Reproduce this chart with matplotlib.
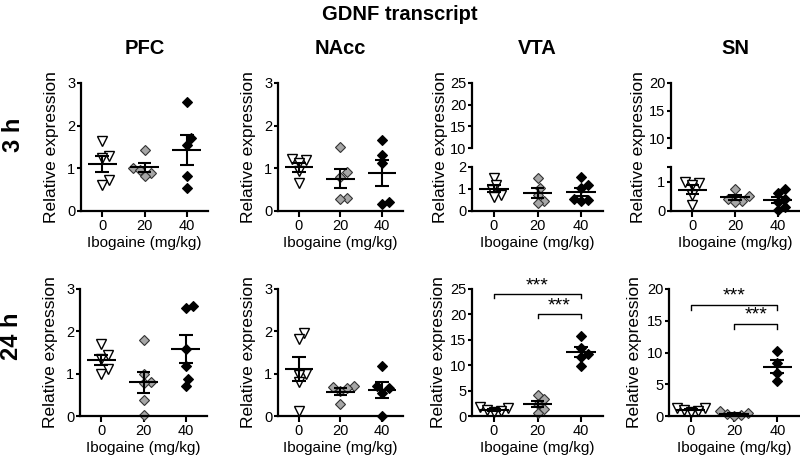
import numpy as np
import matplotlib.pyplot as plt

plt.rcParams['font.family'] = ['Liberation Sans', 'DejaVu Sans']

regions = ["PFC", "NAcc", "VTA", "SN"]
times = ["3 h", "24 h"]
doses = ["0", "20", "40"]

# relative expression per dose group: 0, 20, 40 mg/kg
pfc_3h = [[1.65, 1.3, 1.25, 0.72, 0.6],
          [1.43, 1.0, 0.97, 0.88, 0.82],
          [2.55, 1.7, 1.55, 0.82, 0.55]]
nacc_3h = [[1.22, 1.2, 1.12, 0.93, 0.66],
           [1.5, 0.92, 0.8, 0.3, 0.27],
           [1.67, 1.31, 1.13, 0.2, 0.17]]
vta_3h = [[1.5, 1.2, 0.95, 0.75, 0.65],
          [1.5, 1.05, 0.75, 0.45, 0.35],
          [1.55, 1.2, 1.05, 0.55, 0.5, 0.45]]
sn_3h = [[1.0, 0.95, 0.9, 0.55, 0.2],
         [0.75, 0.5, 0.42, 0.35, 0.3],
         [0.75, 0.6, 0.4, 0.3, 0.15, 0.05]]

pfc_24h = [[1.7, 1.45, 1.35, 1.12, 1.0],
           [1.8, 1.0, 0.8, 0.78, 0.37, 0.02],
           [2.6, 2.55, 1.58, 1.18, 0.88, 0.72]]
nacc_24h = [[1.95, 1.82, 1.0, 0.98, 0.8, 0.12],
            [0.7, 0.68, 0.65, 0.58, 0.28],
            [1.17, 0.7, 0.65, 0.55, 0.0]]
vta_24h = [[1.8, 1.6, 1.2, 0.9, 0.7],
           [4.2, 3.3, 2.3, 1.3, 0.6],
           [15.7, 13.4, 12.2, 11.6, 9.9]]
sn_24h = [[1.3, 1.2, 1.0, 0.8, 0.7],
          [0.8, 0.5, 0.35, 0.15, 0.0],
          [10.3, 8.4, 6.8, 5.5]]

# significance brackets: (group a, group b, height)
vta_24h_sig = [(0, 2, 24.0), (1, 2, 20.0)]
sn_24h_sig = [(0, 2, 17.5), (1, 2, 14.5)]

W, H = 800, 457
MARKERS = [dict(marker="v", ms=7.5, mfc="white", mec="black", mew=1.0),
           dict(marker="D", ms=5.6, mfc="#a6a6a6", mec="#333333", mew=0.8),
           dict(marker="D", ms=5.6, mfc="black", mec="black", mew=0.8)]


def px_axes(fig, left, top, right, bottom):
    return fig.add_axes([left / W, 1 - bottom / H, (right - left) / W, (bottom - top) / H])


def style(ax, bottom=True):
    for s in ["top", "right"]:
        ax.spines[s].set_visible(False)
    ax.spines["left"].set_linewidth(1.6)
    ax.spines["bottom"].set_linewidth(1.6)
    ax.tick_params(direction="out", width=1.5, labelsize=10.5)
    ax.tick_params(axis="y", length=3, pad=1)
    ax.tick_params(axis="x", length=4.5, pad=1.5)
    ax.set_xlim(-0.5, 2.5)
    if bottom:
        ax.set_xticks(range(3))
        ax.set_xticklabels(doses)
        ax.set_xlabel("Ibogaine (mg/kg)", fontsize=11, labelpad=2)
    else:
        ax.spines["bottom"].set_visible(False)
        ax.set_xticks([])


def swarm(ax, values, diam=7.0):
    ys = ax.transData.transform(np.column_stack([np.zeros(len(values)), values]))[:, 1]
    x_unit = ax.transData.transform((1, 0))[0] - ax.transData.transform((0, 0))[0]
    placed = []
    offs = np.zeros(len(values))
    for i in np.argsort(ys):
        chosen = 0.0
        for k in range(0, 30):
            cands = [0.0] if k == 0 else [k * diam / 3, -k * diam / 3]
            found = None
            for c in cands:
                if all((c - px) ** 2 + (ys[i] - py) ** 2 >= diam ** 2 for px, py in placed):
                    found = c
                    break
            if found is not None:
                chosen = found
                break
        placed.append((chosen, ys[i]))
        offs[i] = chosen / x_unit
    return offs


def draw_groups(ax, groups):
    for i, vals in enumerate(groups):
        vals = np.asarray(vals)
        offs = swarm(ax, vals)
        ax.plot(i + offs, vals, ls="none", zorder=2, clip_on=False, **MARKERS[i])
        m = vals.mean()
        se = vals.std(ddof=1) / np.sqrt(len(vals))
        ax.hlines(m, i - 0.34, i + 0.34, color="black", lw=1.5, zorder=3)
        ax.vlines(i, m - se, m + se, color="black", lw=1.5, zorder=3)
        ax.hlines([m - se, m + se], i - 0.16, i + 0.16, color="black", lw=1.5, zorder=3)


def draw_sig(ax, sig, drop):
    for a, b, h in sig:
        ax.plot([a, a, b, b], [h - drop, h, h, h - drop], color="black", lw=1.0)
        ax.text((a + b) / 2, h, "***", ha="center", va="bottom", fontsize=14)


fig = plt.figure(figsize=(8, 4.57), dpi=100)

fig.text(0.5, 1 - 15 / H, "GDNF transcript", ha="center", va="center",
         fontsize=14.5, fontweight="bold")

top_left = [81, 278, 472, 671]
top_right = [208, 403, 603, 799]
bot_left = [80, 278, 472, 669]
bot_right = [207, 403, 603, 799]

# top row (3 h)
top_data = [pfc_3h, nacc_3h, vta_3h, sn_3h]
for c, name in enumerate(regions):
    fig.text((top_left[c] + top_right[c]) / 2 / W, 1 - 49 / H, name, ha="center",
             va="center", fontsize=14.5, fontweight="bold")
    if c < 2:
        ax = px_axes(fig, top_left[c], 83, top_right[c], 211)
        style(ax)
        ax.set_ylim(0, 3)
        ax.set_yticks([0, 1, 2, 3])
        draw_groups(ax, top_data[c])
        lab_off = 29
    else:
        hi = px_axes(fig, top_left[c], 83, top_right[c], 148)
        lo = px_axes(fig, top_left[c], 167, top_right[c], 211)
        style(hi, bottom=False)
        style(lo)
        if name == "VTA":
            hi.set_ylim(10, 25)
            hi.set_yticks([10, 15, 20, 25])
            lo.set_ylim(0, 2)
            lo.set_yticks([0, 1, 2])
        else:
            hi.set_ylim(8.2, 20)
            hi.set_yticks([8.2, 10, 15, 20])
            hi.set_yticklabels(["", "10", "15", "20"])
            lo.set_ylim(0, 1.5)
            lo.set_yticks([0, 1, 1.5])
            lo.set_yticklabels(["0", "1", ""])
        lab_off = 32
        draw_groups(lo, top_data[c])
    fig.text((top_left[c] - lab_off) / W, 1 - 147 / H, "Relative expression",
             rotation=90, ha="center", va="center", fontsize=12.5)

# bottom row (24 h)
bot_data = [pfc_24h, nacc_24h, vta_24h, sn_24h]
bot_ylim = [3, 3, 25, 20]
bot_step = [1, 1, 5, 5]
for c, name in enumerate(regions):
    ax = px_axes(fig, bot_left[c], 289, bot_right[c], 416)
    style(ax)
    ax.set_ylim(0, bot_ylim[c])
    ax.set_yticks(np.arange(0, bot_ylim[c] + 0.1, bot_step[c]))
    draw_groups(ax, bot_data[c])
    if name == "VTA":
        draw_sig(ax, vta_24h_sig, 0.8)
    if name == "SN":
        draw_sig(ax, sn_24h_sig, 0.8)
    lab_off = 29 if c < 2 else 34
    fig.text((bot_left[c] - lab_off) / W, 1 - 352 / H, "Relative expression",
             rotation=90, ha="center", va="center", fontsize=12.5)

fig.text(14 / W, 1 - 135 / H, times[0], rotation=90, ha="center", va="center",
         fontsize=17, fontweight="bold")
fig.text(12 / W, 1 - 336 / H, times[1], rotation=90, ha="center", va="center",
         fontsize=17, fontweight="bold")

fig.savefig("out.png", dpi=100)
